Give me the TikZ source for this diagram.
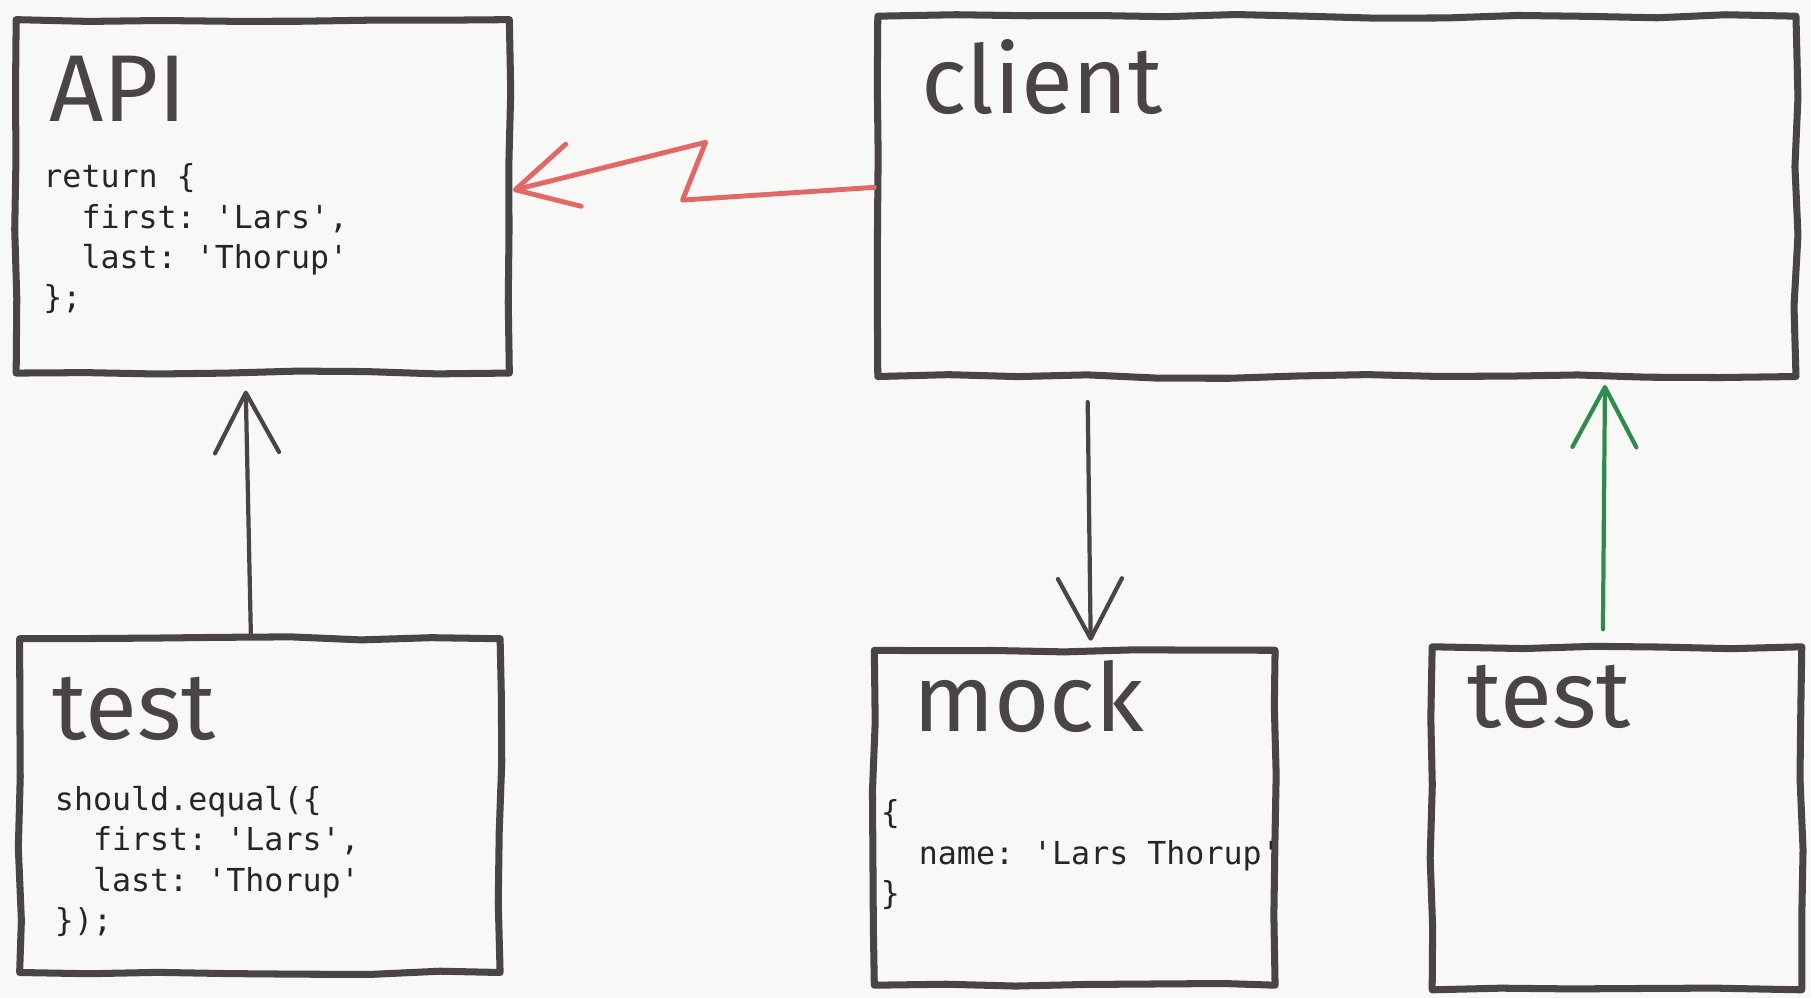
\documentclass[tikz,border=0pt]{standalone}
\usepackage{fontspec}
\setsansfont{Fira Sans}
\setmonofont{DejaVu Sans Mono}
\usetikzlibrary{arrows.meta,fit,decorations.pathmorphing}

\definecolor{ink}{HTML}{4A4448}
\definecolor{callred}{HTML}{E26868}
\definecolor{passgreen}{HTML}{2F8A4C}
\definecolor{paper}{HTML}{F8F8F7}

\tikzset{
  box/.style={draw=ink, line width=2pt, inner sep=0pt, line join=round,
    decorate, decoration={random steps, segment length=7mm, amplitude=0.2mm}},
  title/.style={anchor=base west, inner sep=0pt, text=ink,
    font=\sffamily\fontsize{27}{27}\selectfont},
  code/.style={anchor=north west, inner sep=0pt, align=left, text=black!85,
    font=\ttfamily\fontsize{9}{11.5}\selectfont},
  inkarrow/.style={draw=ink, line width=1.2pt, line cap=round,
    -{Straight Barb[length=6mm, width=6.4mm, round]}},
}

\begin{document}
\begin{tikzpicture}[x=0.1155mm, y=-0.1155mm]
  \pgfmathsetseed{7}
  % Paper
  \fill[paper] (0,0) rectangle (1568,864);
  \useasboundingbox (0,0) rectangle (1568,864);
  % Boxes
  \node[box, fit={(14,17) (441,323)}] (api) {};
  \node[box, fit={(760,14) (1555,326)}] (client) {};
  \node[box, fit={(17,553) (433,842)}] (apitest) {};
  \node[box, fit={(757,563) (1104,853)}] (mock) {};
  \node[box, fit={(1240,560) (1560,857)}] (clienttest) {};
  % Titles
  \node[title] (apititle) at (42,105) {API};
  \node[title] (clienttitle) at (797,98) {client};
  \node[title] (apitesttitle) at (45,640) {test};
  \node[title] (mocktitle) at (790,633) {mock};
  \node[title] (clienttesttitle) at (1270,630) {test};
  % Code snippets
  \node[code] (apicode) at (37,141) {return \{\\\ \ first: 'Lars',\\\ \ last: 'Thorup'\\\};};
  \node[code] (apitestcode) at (47,680) {should.equal(\{\\\ \ first: 'Lars',\\\ \ last: 'Thorup'\\\});};
  \node[code] (mockcode) at (762,692) {\{\\\ \ name: 'Lars Thorup'\\\}};
  % Test calls the API
  \draw[inkarrow] ([xshift=-0.9mm]apitest.north) -- ([xshift=-1.7mm, yshift=-1.4mm]api.south);
  % Client talks to the API (broken link)
  \draw[callred, line width=1.4pt, line cap=round, line join=round,
    -{Straight Barb[length=6mm, width=6.4mm, round]}]
    ([yshift=0.9mm]client.west) -- ++(-166,11) -- ++(20,-50) -- ([yshift=0.6mm]api.east);
  % Client uses the mock
  \draw[inkarrow] ([xshift=1.3mm, yshift=-2.2mm]client.south -| mock.north) -- ([xshift=1.6mm, yshift=0.6mm]mock.north);
  % Test calls the client
  \draw[inkarrow, draw=passgreen] ([xshift=-1.4mm, yshift=1.4mm]clienttest.north) -- ([xshift=-1.2mm, yshift=-0.5mm]client.south -| clienttest.north);
\end{tikzpicture}
\end{document}
